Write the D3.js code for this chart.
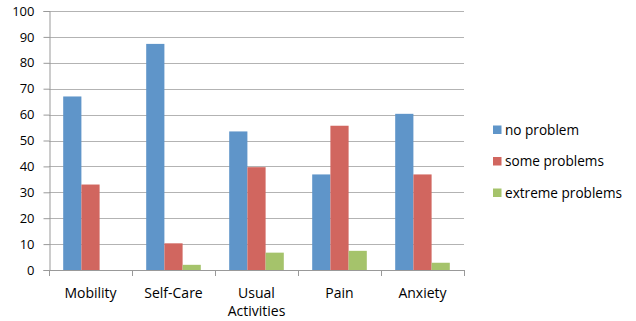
<!DOCTYPE html>
<html><head><meta charset="utf-8">
<script src="https://cdn.jsdelivr.net/npm/d3@7"></script>
<style>body{margin:0;background:#fff}svg{display:block}text{font-family:"Open Sans",sans-serif;fill:#000}</style>
</head><body><svg id="c" width="636" height="321"></svg>
<script>
const categories = ["Mobility", "Self-Care", "Usual Activities", "Pain", "Anxiety"];
const seriesNames = ["no problem", "some problems", "extreme problems"];
const noProblem = [67, 87.3, 53.5, 36.9, 60.3];
const someProblems = [33, 10.3, 39.7, 55.7, 36.9];
const extremeProblems = [0, 2, 6.7, 7.4, 2.8];
const yTicks = [0, 10, 20, 30, 40, 50, 60, 70, 80, 90, 100];
const colors = ["#5f95c9", "#d1665f", "#a5c36b"];

(function () {
const series = [noProblem, someProblems, extremeProblems];
const svg = d3.select("#c");
const pLeft = 49, pRight = 464, pTop = 11, pBottom = 270;

const x = d3.scaleBand().domain(categories).range([pLeft, pRight]).paddingInner(0).paddingOuter(0);
const y = d3.scaleLinear().domain([0, 100]).range([pBottom, pTop]);
const barW = 18.2;
const groupOff = (x.bandwidth() - barW * 3) / 2;

// gridlines
svg.append("g").selectAll("line").data(yTicks.filter(d => d > 0)).join("line")
  .attr("x1", pLeft).attr("x2", pRight)
  .attr("y1", d => Math.round(y(d)) + 0.5).attr("y2", d => Math.round(y(d)) + 0.5)
  .attr("stroke", "#b3b3b3").attr("stroke-width", 1.2);

// y axis
const yAxis = d3.axisLeft(y).tickValues(yTicks).tickSize(6).tickPadding(9);
const gy = svg.append("g").attr("transform", `translate(${pLeft + 0.5},0)`).call(yAxis);
gy.select(".domain").attr("stroke", "#999");
gy.selectAll(".tick line").attr("stroke", "#999");
gy.selectAll(".tick text").attr("font-size", 13).attr("font-family", "'Open Sans',sans-serif").attr("fill", "#000");

// bars
const gBars = svg.append("g");
series.forEach((vals, si) => {
  gBars.append("g").selectAll("rect").data(vals).join("rect")
    .attr("x", (d, i) => x(categories[i]) + groupOff + si * barW)
    .attr("y", d => y(d))
    .attr("width", barW)
    .attr("height", d => y(0) - y(d))
    .attr("fill", colors[si]);
});

// x axis
const xAxis = d3.axisBottom(x).tickSize(0).tickFormat("");
const gx = svg.append("g").attr("transform", `translate(0,${pBottom + 0.5})`).call(xAxis);
gx.select(".domain").attr("stroke", "#999").attr("d", `M${pLeft},0H${pRight}`);
const tickPos = categories.map(c => x(c)).concat([pRight]);
svg.append("g").selectAll("line").data(tickPos).join("line")
  .attr("x1", d => Math.round(d) + 0.5).attr("x2", d => Math.round(d) + 0.5)
  .attr("y1", pBottom).attr("y2", pBottom + 6).attr("stroke", "#999");

// category labels
const labelLines = { "Usual Activities": ["Usual", "Activities"] };
categories.forEach(c => {
  const lines = labelLines[c] || [c];
  const t = svg.append("text").attr("text-anchor", "middle").attr("font-size", 14)
    .attr("x", x(c) + x.bandwidth() / 2).attr("y", 298);
  lines.forEach((l, i) => t.append("tspan").attr("x", x(c) + x.bandwidth() / 2).attr("dy", i === 0 ? 0 : 18).text(l));
});

// legend
const legY = [125.5, 157, 188.5];
seriesNames.forEach((n, i) => {
  svg.append("rect").attr("x", 493).attr("y", legY[i]).attr("width", 8.5).attr("height", 8.5).attr("fill", colors[i]);
  svg.append("text").attr("x", 505).attr("y", legY[i] + 9).attr("font-size", 13.6).text(n);
});
})();
</script></body></html>
